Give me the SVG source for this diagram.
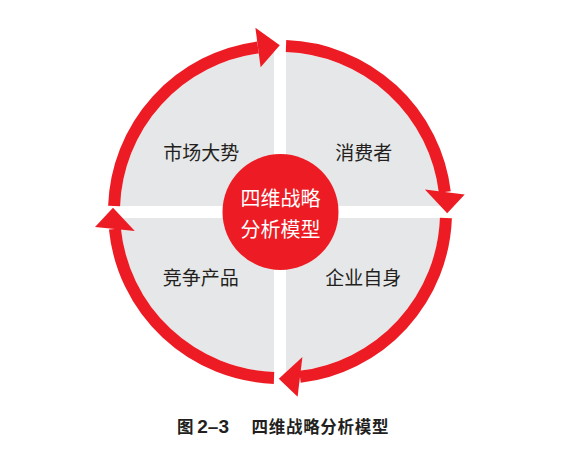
<svg xmlns="http://www.w3.org/2000/svg" width="565" height="474" viewBox="0 0 565 474">
<style>
.q{fill:#e6e7e8}
.ring{fill:none;stroke:#ed1c24;stroke-width:12}
.head{fill:#ed1c24}
.lbl{font-family:"Noto Sans CJK SC","Noto Sans",sans-serif;font-size:19px;fill:#231f20;text-anchor:middle}
.ctr{font-family:"Noto Sans CJK SC","Noto Sans",sans-serif;font-size:20px;fill:#ffffff;text-anchor:middle}
.cap{font-family:"Noto Sans CJK SC","Noto Sans",sans-serif;font-size:16.5px;font-weight:bold;fill:#231f20}
.num{font-family:"Liberation Sans",Arial,sans-serif;font-size:19px;font-weight:bold}
</style>
<rect width="565" height="474" fill="#ffffff"/>
<g id="quadrants">
<path class="q" d="M274 206 L120 206 A160 160 0 0 1 274 52.1 Z"/>
<path class="q" d="M286 206 L286 52.1 A160 160 0 0 1 440 206 Z"/>
<path class="q" d="M286 218 L440 218 A160 160 0 0 1 286 371.9 Z"/>
<path class="q" d="M274 218 L274 371.9 A160 160 0 0 1 120 218 Z"/>
</g>
<g id="connectors">
<path class="ring" d="M114.1 206 A166 166 0 0 1 258 47.5"/>
<polygon class="head" points="255.4,27.7 260.6,67.3 279.8,45.2"/>
<path class="ring" d="M286 46.1 A166 166 0 0 1 444.8 192"/>
<polygon class="head" points="424.9,189.6 464.7,194.4 447.2,213.2"/>
<path class="ring" d="M445.9 218 A166 166 0 0 1 300 376.8"/>
<polygon class="head" points="302.4,356.9 297.6,396.7 278.8,378.8"/>
<path class="ring" d="M274 377.9 A166 166 0 0 1 114.9 229"/>
<polygon class="head" points="134.8,231 95,227 113,207.8"/>
</g>
<g id="center">
<circle cx="280.5" cy="212" r="58" fill="#ed1c24"/>
<text class="ctr" x="280.5" y="206">四维战略</text>
<text class="ctr" x="280.5" y="237">分析模型</text>
</g>
<g id="n-market"><text class="lbl" x="201.3" y="159.5">市场大势</text></g>
<g id="n-consumer"><text class="lbl" x="363.8" y="159.5">消费者</text></g>
<g id="n-competitor"><text class="lbl" x="200.8" y="284.5">竞争产品</text></g>
<g id="n-self"><text class="lbl" x="363.3" y="284.5">企业自身</text></g>
<g id="caption">
<text class="cap" x="177" y="433">图 <tspan class="num">2–3</tspan></text>
<text class="cap" x="251.5" y="433" textLength="137">四维战略分析模型</text>
</g>
</svg>
